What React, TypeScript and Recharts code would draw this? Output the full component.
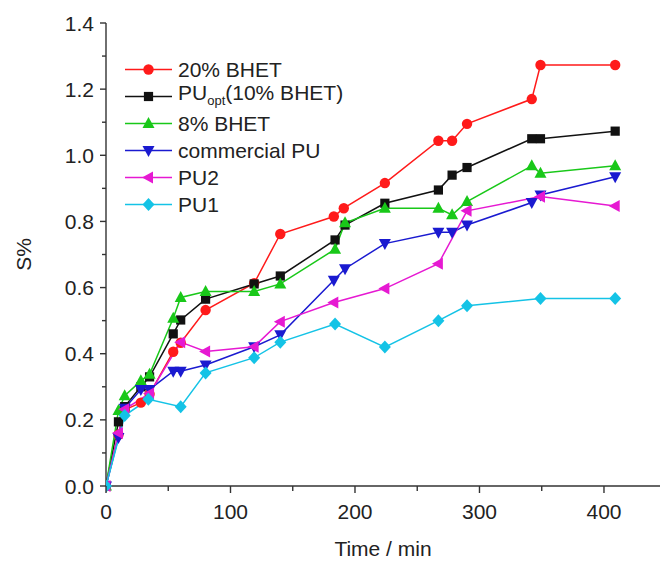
import React from "react";
import {
  LineChart,
  Line,
  XAxis,
  YAxis,
  Legend,
} from "recharts";

// time (min) / S%, one pair of arrays per sample
const bhet20T = [0, 10, 15, 28, 35, 54, 60, 80, 119, 140, 183, 191, 224, 267, 278, 290, 342, 349, 409];
const bhet20S = [0, 0.155, 0.23, 0.252, 0.278, 0.406, 0.433, 0.532, 0.613, 0.762, 0.815, 0.84, 0.916, 1.044, 1.044, 1.095, 1.17, 1.273, 1.273];

const puOptT = [0, 10, 15, 28, 35, 54, 60, 80, 119, 140, 184, 192, 224, 267, 278, 290, 342, 349, 409];
const puOptS = [0, 0.194, 0.24, 0.3, 0.33, 0.46, 0.502, 0.565, 0.611, 0.635, 0.744, 0.789, 0.855, 0.895, 0.94, 0.963, 1.05, 1.05, 1.073];

const bhet8T = [0, 10, 15, 28, 35, 54, 60, 80, 119, 140, 184, 192, 224, 267, 278, 290, 342, 349, 409];
const bhet8S = [0, 0.228, 0.273, 0.318, 0.338, 0.507, 0.57, 0.588, 0.588, 0.611, 0.716, 0.796, 0.84, 0.84, 0.82, 0.86, 0.968, 0.946, 0.968];

const commT = [0, 10, 15, 28, 35, 54, 60, 80, 119, 140, 183, 192, 224, 267, 278, 290, 342, 349, 409];
const commS = [0, 0.147, 0.235, 0.292, 0.292, 0.347, 0.347, 0.366, 0.421, 0.457, 0.622, 0.657, 0.733, 0.767, 0.767, 0.789, 0.857, 0.88, 0.935];

const pu2T = [0, 10, 15, 35, 60, 80, 119, 140, 183, 224, 267, 290, 349, 409];
const pu2S = [0, 0.16, 0.232, 0.28, 0.435, 0.407, 0.421, 0.497, 0.555, 0.597, 0.672, 0.832, 0.875, 0.847];

const pu1T = [0, 15, 34, 60, 80, 119, 140, 184, 224, 267, 290, 349, 409];
const pu1S = [0, 0.213, 0.262, 0.24, 0.342, 0.388, 0.435, 0.49, 0.42, 0.5, 0.545, 0.567, 0.567];

const xTicks = [0, 50, 100, 150, 200, 250, 300, 350, 400];
const yTicks = [0, 0.1, 0.2, 0.3, 0.4, 0.5, 0.6, 0.7, 0.8, 0.9, 1.0, 1.1, 1.2, 1.3, 1.4];

const FONT = "'Liberation Sans', Arial, sans-serif";
const INK = "#222";

type Shape = "circle" | "square" | "up" | "down" | "left" | "diamond";

const zip = (t: number[], s: number[]) => t.map((v, i) => ({ t: v, s: s[i] }));

const series = [
  { key: "bhet20", name: "20% BHET", color: "#ff1a1a", shape: "circle" as Shape, data: zip(bhet20T, bhet20S) },
  { key: "puopt", name: "PUopt", color: "#111111", shape: "square" as Shape, data: zip(puOptT, puOptS) },
  { key: "bhet8", name: "8% BHET", color: "#19c819", shape: "up" as Shape, data: zip(bhet8T, bhet8S) },
  { key: "comm", name: "commercial PU", color: "#1a1ad0", shape: "down" as Shape, data: zip(commT, commS) },
  { key: "pu2", name: "PU2", color: "#e619d2", shape: "left" as Shape, data: zip(pu2T, pu2S) },
  { key: "pu1", name: "PU1", color: "#14c3e6", shape: "diamond" as Shape, data: zip(pu1T, pu1S) },
];

function Marker({ shape, cx, cy, color }: { shape: Shape; cx: number; cy: number; color: string }) {
  if (cx == null || cy == null) return null;
  switch (shape) {
    case "circle":
      return <circle cx={cx} cy={cy} r={5.2} fill={color} />;
    case "square":
      return <rect x={cx - 4.6} y={cy - 4.6} width={9.2} height={9.2} fill={color} />;
    case "up":
      return <polygon points={`${cx},${cy - 6.5} ${cx - 6},${cy + 4.5} ${cx + 6},${cy + 4.5}`} fill={color} />;
    case "down":
      return <polygon points={`${cx},${cy + 6.5} ${cx - 6},${cy - 4.5} ${cx + 6},${cy - 4.5}`} fill={color} />;
    case "left":
      return <polygon points={`${cx - 6.5},${cy} ${cx + 4.5},${cy - 6} ${cx + 4.5},${cy + 6}`} fill={color} />;
    default:
      return <polygon points={`${cx},${cy - 6.5} ${cx + 6},${cy} ${cx},${cy + 6.5} ${cx - 6},${cy}`} fill={color} />;
  }
}

const makeDot = (shape: Shape, color: string) => (props: any) => (
  <Marker key={`${shape}-${props.index}`} shape={shape} cx={props.cx} cy={props.cy} color={color} />
);

function YTick(props: any) {
  const { x, y, payload } = props;
  const major = Math.round(payload.value * 10) % 2 === 0;
  return (
    <g>
      <line x1={x - (major ? 6 : 4)} x2={x} y1={y} y2={y} stroke="#333" strokeWidth={1.4} />
      {major && (
        <text x={x - 12} y={y} dy="0.36em" textAnchor="end" fontSize={21} fontFamily={FONT} fill={INK}>
          {payload.value.toFixed(1)}
        </text>
      )}
    </g>
  );
}

function XTick(props: any) {
  const { x, y, payload } = props;
  const major = payload.value % 100 === 0;
  return (
    <g>
      <line x1={x} x2={x} y1={y} y2={y + (major ? 7 : 5)} stroke="#333" strokeWidth={1.4} />
      {major && (
        <text x={x} y={y + 33} textAnchor="middle" fontSize={21} fontFamily={FONT} fill={INK}>
          {payload.value}
        </text>
      )}
    </g>
  );
}

function LegendBox() {
  return (
    <div style={{ fontFamily: FONT, fontSize: 21, color: INK, lineHeight: "27px" }}>
      {series.map((s) => (
        <div key={s.key} style={{ display: "flex", alignItems: "center", height: 27, whiteSpace: "nowrap" }}>
          <svg width={50} height={27} style={{ flex: "none" }}>
            <line x1={0} x2={47} y1={13.5} y2={13.5} stroke={s.color} strokeWidth={1.6} />
            <Marker shape={s.shape} cx={23.5} cy={13.5} color={s.color} />
          </svg>
          <span style={{ marginLeft: 3 }}>
            {s.key === "puopt" ? (
              <>
                PU<sub style={{ fontSize: 13, verticalAlign: "-5px" }}>opt</sub>(10% BHET)
              </>
            ) : (
              s.name
            )}
          </span>
        </div>
      ))}
    </div>
  );
}

export default function App() {
  return (
    <div style={{ position: "absolute", left: 0, top: 0, background: "#fff" }}>
      <LineChart width={665} height={561} margin={{ top: 23, right: 5, left: 0, bottom: 0 }}>
        <XAxis
          type="number"
          dataKey="t"
          domain={[0, 445]}
          ticks={xTicks}
          interval={0}
          allowDataOverflow
          height={75}
          tickSize={0}
          tickMargin={0}
          tick={<XTick />}
          axisLine={{ stroke: "#333", strokeWidth: 1.4 }}
          tickLine={false}
          label={{ value: "Time / min", position: "insideBottom", offset: 5, fontSize: 21, fontFamily: FONT, fill: INK }}
        />
        <YAxis
          type="number"
          domain={[0, 1.4]}
          ticks={yTicks}
          interval={0}
          width={106}
          tickSize={0}
          tickMargin={0}
          tick={<YTick />}
          axisLine={{ stroke: "#333", strokeWidth: 1.4 }}
          tickLine={false}
          label={{
            content: ({ viewBox }: any) => {
              const cx = viewBox.x + 23;
              const cy = viewBox.y + viewBox.height / 2;
              return (
                <text x={cx} y={cy} dy="0.36em" textAnchor="middle" fontSize={21} fontFamily={FONT} fill={INK} transform={`rotate(-90, ${cx}, ${cy})`}>
                  S%
                </text>
              );
            },
          }}
        />
        <Legend
          layout="vertical"
          align="center"
          verticalAlign="middle"
          wrapperStyle={{ position: "absolute", left: 125, top: 56, width: "auto" }}
          content={() => <LegendBox />}
        />
        {series.map((s) => (
          <Line
            key={s.key}
            data={s.data}
            dataKey="s"
            name={s.name}
            type="linear"
            stroke={s.color}
            strokeWidth={1.5}
            dot={makeDot(s.shape, s.color)}
            activeDot={false}
            isAnimationActive={false}
          />
        ))}
      </LineChart>
    </div>
  );
}
